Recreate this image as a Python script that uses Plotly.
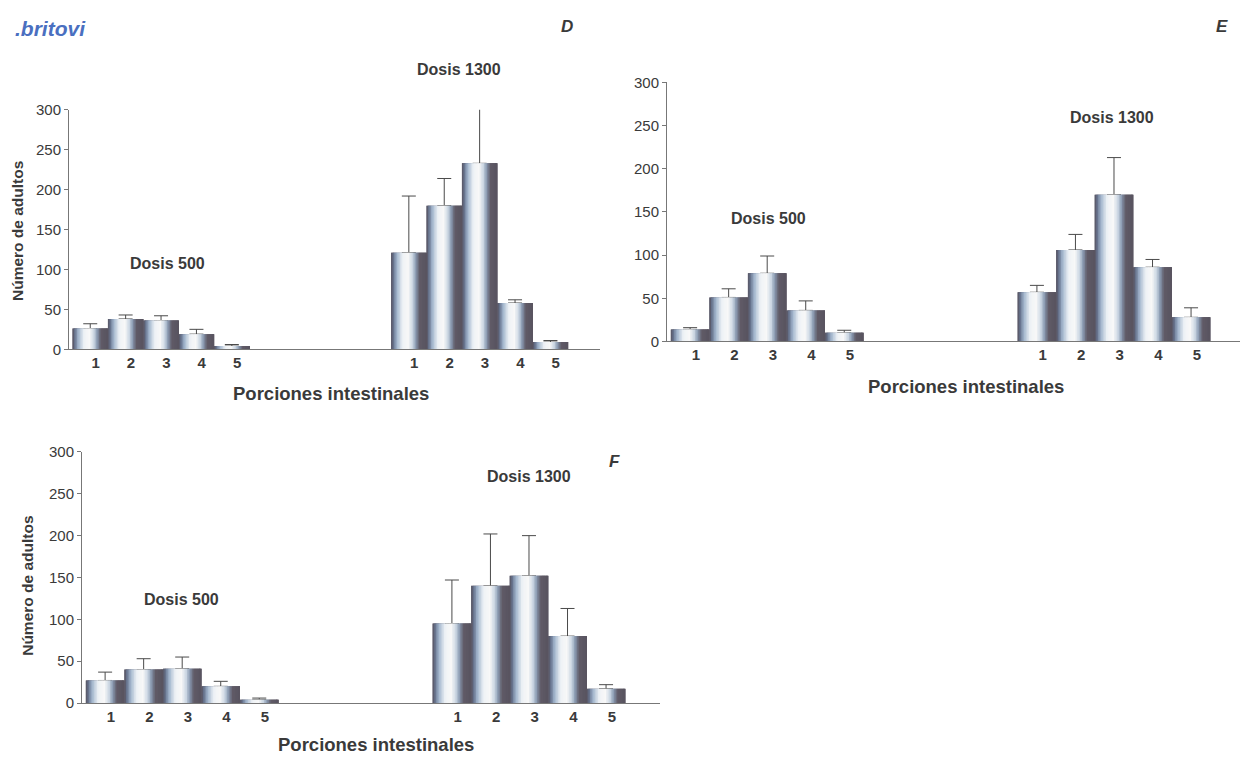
import plotly.graph_objects as go

# ---------------- data ----------------
portions = ["1", "2", "3", "4", "5"]
pos_500 = [1, 2, 3, 4, 5]
pos_1300 = [10, 11, 12, 13, 14]
y_ticks = [0, 50, 100, 150, 200, 250, 300]

d_500 = [26, 38, 36, 19, 4]
d_500_err = [6, 5, 6, 6, 2]
d_1300 = [121, 180, 233, 58, 9]
d_1300_err = [71, 34, 73, 4, 2]

e_500 = [14, 51, 79, 36, 10]
e_500_err = [2, 10, 20, 11, 3]
e_1300 = [57, 106, 170, 86, 28]
e_1300_err = [8, 18, 43, 9, 11]

f_500 = [27, 40, 41, 20, 4]
f_500_err = [10, 13, 14, 6, 2]
f_1300 = [95, 140, 152, 80, 17]
f_1300_err = [52, 62, 48, 33, 5]

panel_letters = ["D", "E", "F"]
dose_labels = ["Dosis 500", "Dosis 1300"]
x_title = "Porciones intestinales"
y_title = "Número de adultos"

# ---------------- style ----------------
PAGE_W, PAGE_H = 1248, 766
BODY = 8                      # default page margin around the figure
W, H = PAGE_W - 2 * BODY, PAGE_H - 2 * BODY
FONT = "Liberation Sans, Arial, sans-serif"
TXT = "#3a3a3a"

# cylinder-like gradient across each bar (fraction, colour)
grad = [
    (0.00, (86, 81, 94)),
    (0.06, (100, 112, 138)),
    (0.16, (160, 180, 204)),
    (0.32, (238, 242, 246)),
    (0.48, (248, 248, 248)),
    (0.60, (205, 216, 228)),
    (0.70, (135, 152, 176)),
    (0.80, (96, 91, 103)),
    (1.00, (88, 83, 95)),
]


def grad_color(t):
    for (t0, c0), (t1, c1) in zip(grad[:-1], grad[1:]):
        if t0 <= t <= t1:
            f = (t - t0) / (t1 - t0) if t1 > t0 else 0
            c = [round(a + (b - a) * f) for a, b in zip(c0, c1)]
            return "rgb(%d,%d,%d)" % tuple(c)
    return "rgb(%d,%d,%d)" % grad[-1][1]


X_LO, X_HI = 0.4, 15.4


def x_axis_setup(a, b):
    """pixel extent a..b (page coords) showing X_LO..X_HI; clamp to figure."""
    per = (b - a) / (X_HI - X_LO)
    b2 = min(b, BODY + W)
    hi = X_HI - (b - b2) / per
    return [(a - BODY) / W, (b2 - BODY) / W], [X_LO, hi]


def px_dom_y(top, bottom):
    return [1 - (bottom - BODY) / H, 1 - (top - BODY) / H]


panels = [
    dict(ax="", vals=d_500 + d_1300, errs=d_500_err + d_1300_err,
         xs=x_axis_setup(69, 600), yd=px_dom_y(103, 348)),
    dict(ax="2", vals=e_500 + e_1300, errs=e_500_err + e_1300_err,
         xs=x_axis_setup(667, 1245), yd=px_dom_y(75, 340)),
    dict(ax="3", vals=f_500 + f_1300, errs=f_500_err + f_1300_err,
         xs=x_axis_setup(82, 660), yd=px_dom_y(453, 710)),
]

positions = pos_500 + pos_1300
N = 24

fig = go.Figure()
layout = dict(
    width=W, height=H, margin=dict(l=0, r=0, t=0, b=0),
    paper_bgcolor="white", plot_bgcolor="white", showlegend=False,
    barmode="overlay", font=dict(family=FONT, color=TXT),
)

for p in panels:
    xa, ya = "x" + p["ax"], "y" + p["ax"]
    # base (dark) bar carrying the error bars
    fig.add_trace(go.Bar(
        x=positions, y=p["vals"], width=1.0, xaxis=xa, yaxis=ya,
        marker=dict(color=grad_color(0.0), line=dict(width=0)),
        error_y=dict(type="data", array=p["errs"], arrayminus=[0] * len(p["errs"]),
                     symmetric=False, color="#4a4a4a", thickness=1, width=7),
        hoverinfo="skip",
    ))
    for k in range(N):
        off = -0.5 + k / N
        fig.add_trace(go.Bar(
            x=positions, y=p["vals"], width=min(2.0 / N, 0.5 - off), offset=off,
            xaxis=xa, yaxis=ya,
            marker=dict(color=grad_color((k + 0.5) / N), line=dict(width=0)),
            hoverinfo="skip",
        ))
    dom, rng = p["xs"]
    layout["xaxis" + p["ax"]] = dict(
        domain=dom, range=rng, anchor=ya,
        showline=True, linecolor="#777", linewidth=1, ticks="",
        tickvals=[v + 0.15 for v in positions],
        ticktext=["<b>%s</b>" % t for t in portions * 2],
        tickfont=dict(size=15, color=TXT, family=FONT),
        showgrid=False, zeroline=False, fixedrange=True,
    )
    layout["yaxis" + p["ax"]] = dict(
        domain=p["yd"], range=[0, 300], anchor=xa,
        showline=True, linecolor="#777", linewidth=1,
        ticks="outside", ticklen=4, tickcolor="#777",
        tickvals=y_ticks, tickfont=dict(size=15, color=TXT, family=FONT),
        showgrid=False, zeroline=False, fixedrange=True,
    )

fig.update_layout(**layout)


def ann(text, x, y, size=15, bold=True, italic=False, angle=0, color=TXT):
    t = text
    if bold:
        t = "<b>%s</b>" % t
    if italic:
        t = "<i>%s</i>" % t
    fig.add_annotation(text=t, x=(x - BODY) / W, y=1 - (y - BODY) / H,
                       xref="paper", yref="paper",
                       showarrow=False, textangle=angle,
                       font=dict(size=size, family=FONT, color=color),
                       xanchor="center", yanchor="middle")


# watermark
ann(".britovi", 50, 20, size=21, bold=True, italic=True, color="#4a6fc0")

# panel D
ann(panel_letters[0], 567, 18, size=17, italic=True)
ann(dose_labels[1], 459, 62, size=16)
ann(dose_labels[0], 168, 260, size=16)
ann(x_title, 331, 393, size=18.5)
ann(y_title, 17, 227, size=15.5, angle=-90)

# panel E
ann(panel_letters[1], 1222, 18, size=17, italic=True)
ann(dose_labels[1], 1112, 111, size=16)
ann(dose_labels[0], 768, 214, size=16)
ann(x_title, 966, 386, size=18.5)

# panel F
ann(panel_letters[2], 614, 463, size=17, italic=True)
ann(dose_labels[1], 529, 478, size=16)
ann(dose_labels[0], 181, 604, size=16)
ann(x_title, 376, 752, size=18.5)
ann(y_title, 28, 590, size=15.5, angle=-90)

fig.write_html("out.html")
